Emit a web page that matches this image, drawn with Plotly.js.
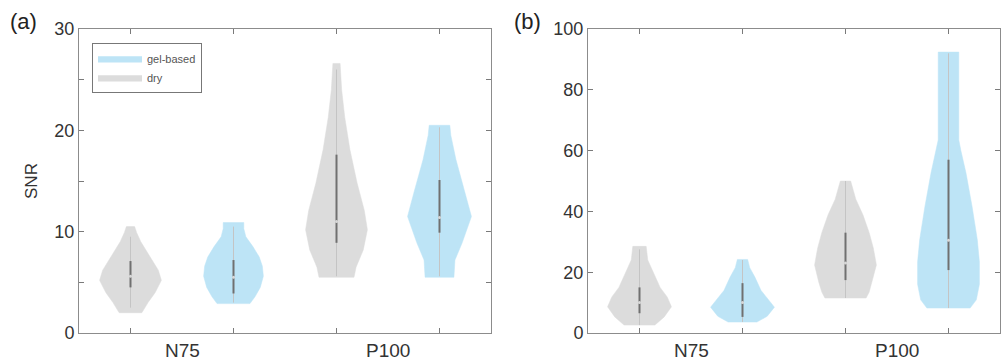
<!DOCTYPE html>
<html>
<head>
<meta charset="utf-8">
<script src="https://cdn.plot.ly/plotly-3.0.1.min.js"></script>
<style>html,body{margin:0;padding:0;background:#fff;}#chart{width:1003px;height:363px;}</style>
</head>
<body>
<div id="chart"></div>
<script>
// ---- data ----
const categories = ['N75', 'P100'];
const groups = ['dry', 'gel-based'];
// positions on the x axis: N75 dry, N75 gel, P100 dry, P100 gel
const positions = [1, 2, 3, 4];

// Panel (a): SNR violin profiles (y level, half width in x units)
const a_dryN75_y  = [2.0, 3.0, 4.0, 5.2, 6.2, 7.2, 8.2, 9.0, 9.9, 10.5];
const a_dryN75_w  = [0.11, 0.17, 0.24, 0.30, 0.27, 0.21, 0.15, 0.10, 0.06, 0.04];
const a_gelN75_y  = [2.9, 3.6, 4.5, 5.6, 6.6, 7.5, 8.5, 9.5, 10.3, 10.9];
const a_gelN75_w  = [0.16, 0.21, 0.26, 0.29, 0.28, 0.25, 0.19, 0.12, 0.10, 0.10];
const a_dryP100_y = [5.5, 6.5, 8.2, 10.2, 12.1, 14.8, 18.1, 21.3, 24.0, 26.6];
const a_dryP100_w = [0.17, 0.19, 0.26, 0.30, 0.27, 0.20, 0.13, 0.08, 0.05, 0.035];
const a_gelP100_y = [5.5, 7.2, 8.9, 11.5, 13.8, 17.1, 19.5, 20.5];
const a_gelP100_w = [0.14, 0.15, 0.22, 0.31, 0.25, 0.16, 0.11, 0.10];

// Panel (b) profiles
const b_dryN75_y  = [2.6, 5.3, 8.6, 11.8, 15.0, 19.7, 24.0, 28.5];
const b_dryN75_w  = [0.15, 0.24, 0.31, 0.27, 0.20, 0.135, 0.08, 0.065];
const b_gelN75_y  = [3.6, 5.5, 8.5, 11.0, 14.0, 18.4, 21.5, 24.2];
const b_gelN75_w  = [0.14, 0.24, 0.31, 0.25, 0.18, 0.12, 0.07, 0.05];
const b_dryP100_y = [11.5, 13.5, 16.8, 22.4, 28.0, 33.0, 38.8, 44.0, 50.0];
const b_dryP100_w = [0.20, 0.23, 0.26, 0.30, 0.27, 0.23, 0.17, 0.10, 0.05];
const b_gelP100_y = [8.2, 10.9, 16.0, 23.4, 30.6, 41.4, 52.6, 60.0, 63.5, 75.0, 92.4];
const b_gelP100_w = [0.21, 0.27, 0.30, 0.30, 0.28, 0.23, 0.17, 0.12, 0.10, 0.10, 0.10];

// box stats: [whisker low, q1, median, q3, whisker high]
const a_dryN75_box  = [2.5, 4.5, 5.6, 7.1, 9.5];
const a_gelN75_box  = [3.0, 3.9, 5.5, 7.2, 10.5];
const a_dryP100_box = [5.6, 8.9, 11.0, 17.6, 26.0];
const a_gelP100_box = [5.6, 9.9, 11.4, 15.1, 20.3];
const b_dryN75_box  = [2.6, 6.5, 10.0, 15.0, 27.5];
const b_gelN75_box  = [3.6, 5.3, 10.0, 16.4, 24.0];
const b_dryP100_box = [11.5, 17.4, 23.0, 33.0, 50.0];
const b_gelP100_box = [8.2, 20.7, 30.5, 57.0, 92.0];

// ---- styling ----
const GRAY = 'rgba(220,220,220,1)';
const BLUE = 'rgba(189,228,246,1)';
const FONT = 'Liberation Sans, Arial, sans-serif';

function violin(pos, ys, ws, color, name, showlegend, xa, ya, rank) {
  const x = [], y = [];
  for (let i = 0; i < ys.length; i++) { x.push(pos - ws[i]); y.push(ys[i]); }
  for (let i = ys.length - 1; i >= 0; i--) { x.push(pos + ws[i]); y.push(ys[i]); }
  x.push(x[0]); y.push(y[0]);
  return { type: 'scatter', mode: 'lines', x, y, fill: 'toself', fillcolor: color,
    line: { color: color, width: 0.5 }, name, showlegend, legendrank: rank,
    xaxis: xa, yaxis: ya, hoverinfo: 'skip' };
}
function boxTraces(pos, st, xa, ya) {
  return [
    { type: 'scatter', mode: 'lines', x: [pos, pos], y: [st[0], st[4]], xaxis: xa, yaxis: ya,
      line: { color: '#c4c4c4', width: 1 }, showlegend: false, hoverinfo: 'skip' },
    { type: 'scatter', mode: 'lines', x: [pos, pos], y: [st[1], st[3]], xaxis: xa, yaxis: ya,
      line: { color: '#707070', width: 2 }, showlegend: false, hoverinfo: 'skip' },
    { type: 'scatter', mode: 'markers', x: [pos], y: [st[2]], xaxis: xa, yaxis: ya,
      marker: { color: '#d8d8d8', size: 3 }, showlegend: false, hoverinfo: 'skip' }
  ];
}

const traces = [
  violin(positions[0], a_dryN75_y, a_dryN75_w, GRAY, groups[0], true, 'x', 'y', 2),
  violin(positions[1], a_gelN75_y, a_gelN75_w, BLUE, groups[1], true, 'x', 'y', 1),
  violin(positions[2], a_dryP100_y, a_dryP100_w, GRAY, groups[0], false, 'x', 'y', 3),
  violin(positions[3], a_gelP100_y, a_gelP100_w, BLUE, groups[1], false, 'x', 'y', 3),
  violin(positions[0], b_dryN75_y, b_dryN75_w, GRAY, groups[0], false, 'x2', 'y2', 3),
  violin(positions[1], b_gelN75_y, b_gelN75_w, BLUE, groups[1], false, 'x2', 'y2', 3),
  violin(positions[2], b_dryP100_y, b_dryP100_w, GRAY, groups[0], false, 'x2', 'y2', 3),
  violin(positions[3], b_gelP100_y, b_gelP100_w, BLUE, groups[1], false, 'x2', 'y2', 3),
  ...boxTraces(positions[0], a_dryN75_box, 'x', 'y'),
  ...boxTraces(positions[1], a_gelN75_box, 'x', 'y'),
  ...boxTraces(positions[2], a_dryP100_box, 'x', 'y'),
  ...boxTraces(positions[3], a_gelP100_box, 'x', 'y'),
  ...boxTraces(positions[0], b_dryN75_box, 'x2', 'y2'),
  ...boxTraces(positions[1], b_gelN75_box, 'x2', 'y2'),
  ...boxTraces(positions[2], b_dryP100_box, 'x2', 'y2'),
  ...boxTraces(positions[3], b_gelP100_box, 'x2', 'y2')
];

const W = 1003, H = 363;
const axisCommon = {
  showline: true, mirror: 'ticks', linecolor: '#8c8c8c', linewidth: 1,
  ticks: 'inside', ticklen: 5, tickcolor: '#7a7a7a', tickwidth: 1,
  showgrid: false, zeroline: false,
  tickfont: { family: FONT, size: 18, color: '#333333' }
};
const xCommon = Object.assign({}, axisCommon, {
  range: [0.5, 4.5], tickvals: positions, ticktext: ['', '', '', ''], fixedrange: true
});
const yDomain = [30 / H, (H - 29) / H];

const layout = {
  width: W, height: H, autosize: false,
  margin: { l: 0, r: 0, t: 0, b: 0 },
  paper_bgcolor: '#ffffff', plot_bgcolor: '#ffffff',
  font: { family: FONT, color: '#333333' },
  xaxis: Object.assign({}, xCommon, { domain: [79 / W, 491 / W], anchor: 'y' }),
  xaxis2: Object.assign({}, xCommon, { domain: [588 / W, 1000 / W], anchor: 'y2' }),
  yaxis: Object.assign({}, axisCommon, {
    domain: yDomain, anchor: 'x', range: [0, 30], tickvals: [0, 10, 20, 30],
    minor: { tickvals: [5, 15, 25], ticks: 'inside', ticklen: 5, tickcolor: '#7a7a7a' },
    title: { text: 'SNR', font: { family: FONT, size: 17, color: '#333333' }, standoff: 12 }
  }),
  yaxis2: Object.assign({}, axisCommon, {
    domain: yDomain, anchor: 'x2', range: [0, 100], tickvals: [0, 20, 40, 60, 80, 100]
  }),
  showlegend: true,
  legend: {
    x: 92 / W, y: (H - 43) / H, xanchor: 'left', yanchor: 'top',
    bordercolor: '#777777', borderwidth: 1, bgcolor: '#ffffff',
    font: { family: FONT, size: 11, color: '#555555' }, tracegroupgap: 0,
    itemwidth: 44
  },
  annotations: [
    { text: categories[0], x: 1.5, xref: 'x', y: 13 / H, yref: 'paper', showarrow: false, yanchor: 'middle',
      font: { family: FONT, size: 19, color: '#333333' } },
    { text: categories[1], x: 3.5, xref: 'x', y: 13 / H, yref: 'paper', showarrow: false, yanchor: 'middle',
      font: { family: FONT, size: 19, color: '#333333' } },
    { text: categories[0], x: 1.5, xref: 'x2', y: 13 / H, yref: 'paper', showarrow: false, yanchor: 'middle',
      font: { family: FONT, size: 19, color: '#333333' } },
    { text: categories[1], x: 3.5, xref: 'x2', y: 13 / H, yref: 'paper', showarrow: false, yanchor: 'middle',
      font: { family: FONT, size: 19, color: '#333333' } },
    { text: '(a)', x: 23 / W, xref: 'paper', y: (H - 22) / H, yref: 'paper', showarrow: false,
      xanchor: 'center', yanchor: 'middle', font: { family: FONT, size: 22, color: '#222222' } },
    { text: '(b)', x: 527 / W, xref: 'paper', y: (H - 22) / H, yref: 'paper', showarrow: false,
      xanchor: 'center', yanchor: 'middle', font: { family: FONT, size: 22, color: '#222222' } }
  ]
};

Plotly.newPlot('chart', traces, layout, { staticPlot: true, displayModeBar: false });
</script>
</body>
</html>
